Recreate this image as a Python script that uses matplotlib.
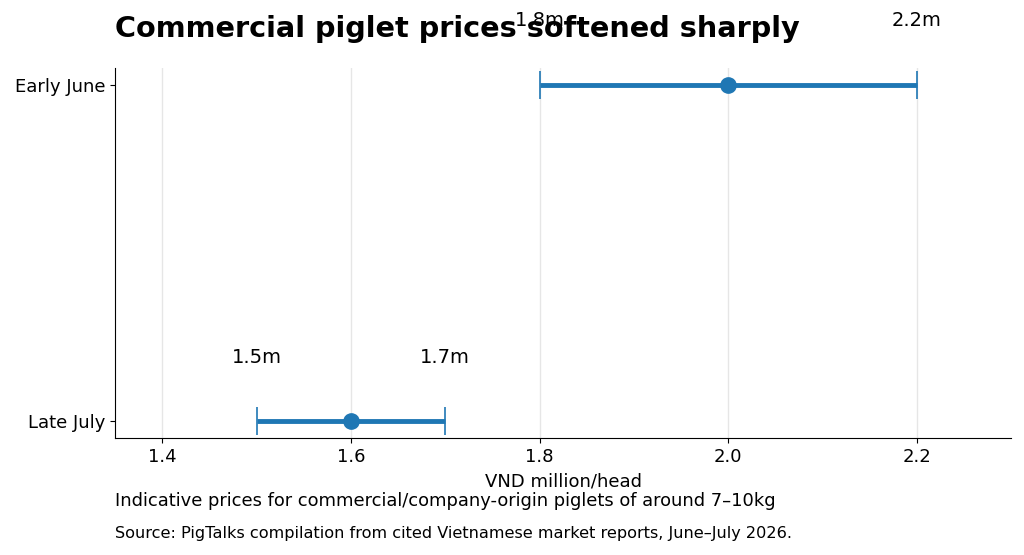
import matplotlib
matplotlib.use("Agg")
import matplotlib.pyplot as plt

periods = ["Early June", "Late July"]
low = [1.8, 1.5]
high = [2.2, 1.7]
mid = [2.0, 1.6]
tick_vals = [1.4, 1.6, 1.8, 2.0, 2.2]

fig = plt.figure(figsize=(10.24, 5.55), dpi=100)
ax = fig.add_axes([0.1123, 0.2108, 0.8752, 0.6667])

ypos = [1, 0]
color = "#1f77b4"
for y, lo, hi, m in zip(ypos, low, high, mid):
    ax.errorbar(m, y, xerr=[[m - lo], [hi - m]], fmt="o", color=color,
                ms=11, elinewidth=3.5, capsize=10, capthick=1.2, zorder=3)
    ax.annotate(f"{lo}m", (lo, y), xytext=(0, 46), textcoords="offset points",
                ha="center", va="center", fontsize=14)
    ax.annotate(f"{hi}m", (hi, y), xytext=(0, 46), textcoords="offset points",
                ha="center", va="center", fontsize=14)

ax.set_yticks(ypos)
ax.set_yticklabels(periods, fontsize=13)
ax.set_xticks(tick_vals)
ax.set_xticklabels([f"{v:.1f}" for v in tick_vals], fontsize=13)
ax.set_xlim(1.35, 2.3)
ax.set_ylim(-0.05, 1.05)
ax.set_xlabel("VND million/head", fontsize=13, labelpad=5)
ax.grid(axis="x", color="#e6e6e6", linewidth=1)
ax.set_axisbelow(True)
ax.spines["top"].set_visible(False)
ax.spines["right"].set_visible(False)

fig.text(0.1123, 0.948, "Commercial piglet prices softened sharply", fontsize=20.7,
         fontweight="bold", ha="left", va="center", zorder=10)
fig.text(0.1123, 0.097, "Indicative prices for commercial/company-origin piglets of around 7\u201310kg",
         fontsize=12.9, ha="left", va="center")
fig.text(0.1123, 0.038, "Source: PigTalks compilation from cited Vietnamese market reports, June\u2013July 2026.",
         fontsize=11.6, ha="left", va="center")

fig.savefig("out.png", dpi=100)
